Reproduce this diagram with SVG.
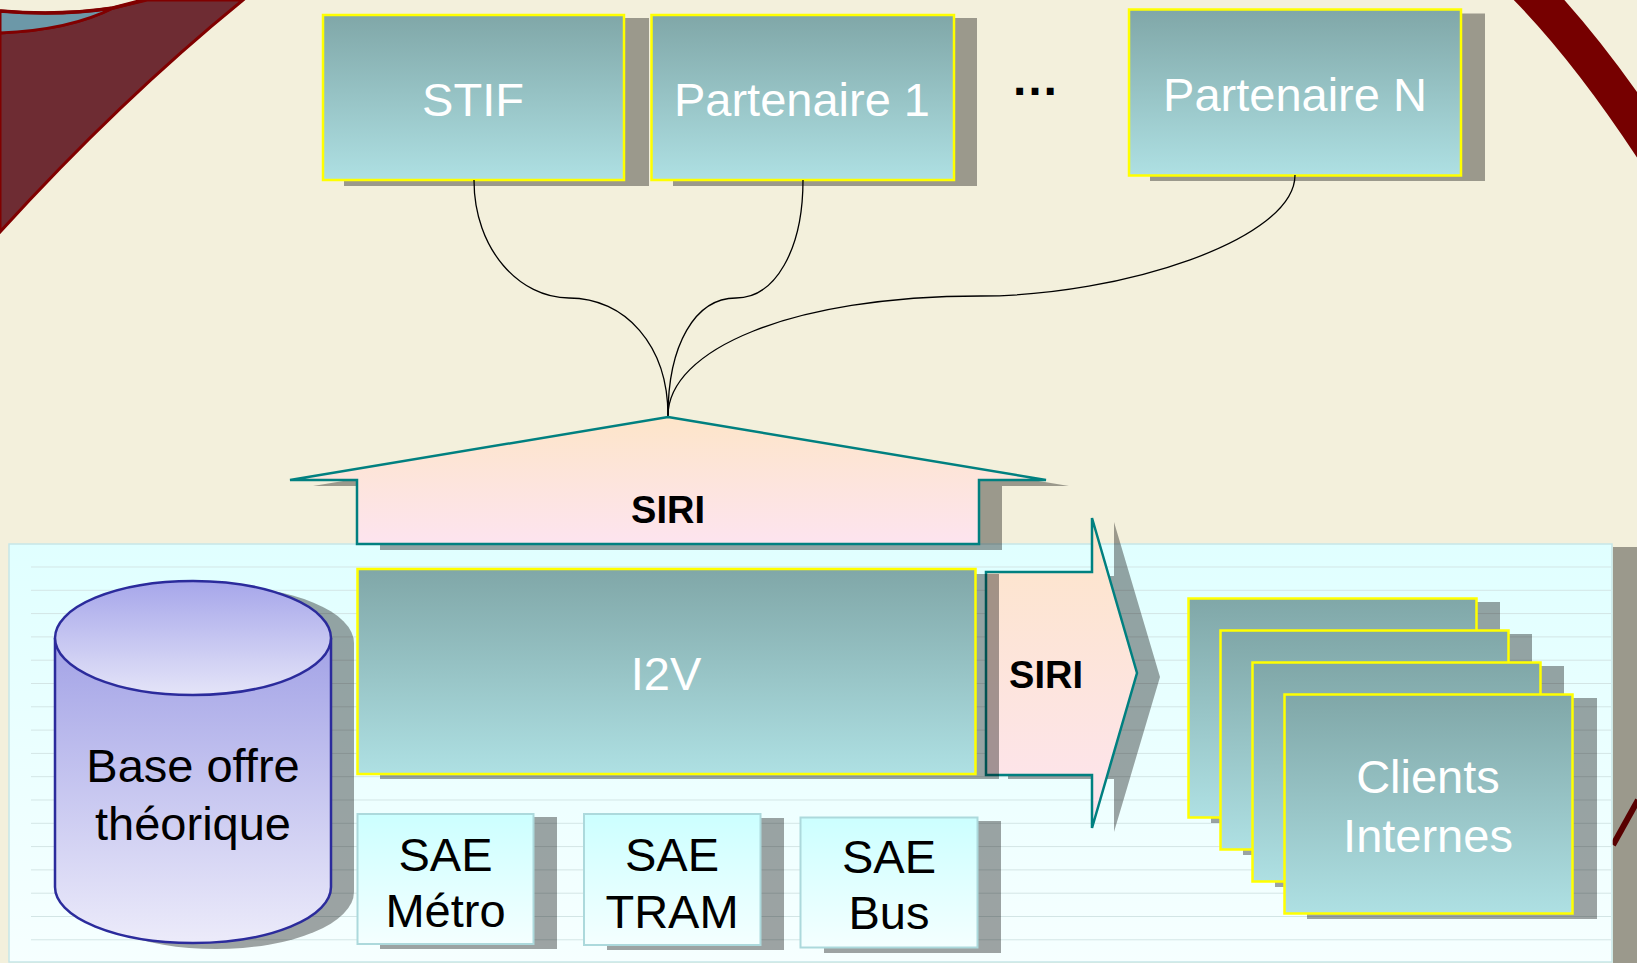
<svg xmlns="http://www.w3.org/2000/svg" width="1637" height="963" viewBox="0 0 1637 963">
<defs>
<linearGradient id="gBox" x1="0" y1="0" x2="0" y2="1">
<stop offset="0" stop-color="#80a7a8"/>
<stop offset="1" stop-color="#aee0e3"/>
</linearGradient>
<linearGradient id="gPanel" x1="0" y1="0" x2="0" y2="1">
<stop offset="0" stop-color="#e0ffff"/>
<stop offset="1" stop-color="#f6ffff"/>
</linearGradient>
<linearGradient id="gArrow" x1="0" y1="0" x2="0" y2="1">
<stop offset="0" stop-color="#fde5c9"/>
<stop offset="1" stop-color="#fde4ef"/>
</linearGradient>
<linearGradient id="gSae" x1="0" y1="0" x2="0" y2="1">
<stop offset="0" stop-color="#ccffff"/>
<stop offset="1" stop-color="#f4ffff"/>
</linearGradient>
<linearGradient id="gCyl" x1="0" y1="0" x2="0" y2="1">
<stop offset="0" stop-color="#a2a2e6"/>
<stop offset="1" stop-color="#ecebfa"/>
</linearGradient>
<linearGradient id="gCylTop" x1="0" y1="0" x2="0" y2="1">
<stop offset="0" stop-color="#a6a6ea"/>
<stop offset="1" stop-color="#e4e4f8"/>
</linearGradient>
<pattern id="stripes" patternUnits="userSpaceOnUse" x="0" y="566.5" width="40" height="23.3">
<line x1="0" y1="0.5" x2="40" y2="0.5" stroke="#d3e5e5" stroke-width="1"/>
</pattern>
<style>
.bg{fill:#f3f0dc}
.shadow{fill:#000;fill-opacity:0.36}
.box{fill:url(#gBox);stroke:#ffff00;stroke-width:2.5}
.sae{fill:url(#gSae);stroke:#acd9dc;stroke-width:2}
.arrow{fill:url(#gArrow);stroke:#008080;stroke-width:2.5;stroke-linejoin:miter}
.wt{font-family:"Liberation Sans",Arial,sans-serif;font-size:47px;fill:#ffffff;text-anchor:middle}
.bt{font-family:"Liberation Sans",Arial,sans-serif;font-size:47px;fill:#000000;text-anchor:middle}
.siri{font-family:"Liberation Sans",Arial,sans-serif;font-size:38px;font-weight:bold;fill:#000000;text-anchor:middle}
.conn{fill:none;stroke:#000000;stroke-width:1.3}
</style>
</defs>
<rect class="bg" x="0" y="0" width="1637" height="963"/>
<g id="decor">
<path d="M0,33 Q70,30 113,8 L147,0 L243,0 Q120,100 0,232 Z" fill="#6e2c33" stroke="#800000" stroke-width="3"/>
<path d="M0,11 Q60,16 113,8 Q70,30 0,33 Z" fill="#6c98a8" stroke="#800000" stroke-width="3"/>
<path d="M0,11 Q60,16 113,8 L147,-1" fill="none" stroke="#800000" stroke-width="3.5"/>
<path d="M1522,-18 Q1590,50 1662,162" fill="none" stroke="#760000" stroke-width="37"/>
</g>
<g id="stif">
<rect class="shadow" x="344" y="18" width="305" height="168"/>
<rect class="box" x="323" y="15" width="301" height="165"/>
<text class="wt" x="473" y="116">STIF</text>
</g>
<g id="partenaire1">
<rect class="shadow" x="673" y="18" width="304" height="168"/>
<rect class="box" x="651.5" y="15" width="302.5" height="165"/>
<text class="wt" x="802" y="116">Partenaire 1</text>
</g>
<g id="ellipsis">
<text x="1035" y="95" font-family="'Liberation Sans',Arial,sans-serif" font-size="48" font-weight="bold" fill="#000" text-anchor="middle">…</text>
</g>
<g id="partenaireN">
<rect class="shadow" x="1150" y="13.5" width="335" height="167.5"/>
<rect class="box" x="1129" y="9.5" width="332" height="166"/>
<text class="wt" x="1295" y="111">Partenaire N</text>
</g>
<g id="connectors">
<path class="conn" d="M474,180 C474,250 520,298 569,298 C625,298 668,345 668,416"/>
<path class="conn" d="M803,180 C803,250 775,298 736,298 C695,298 668,345 668,416"/>
<path class="conn" d="M1295,175 C1295,240 1120,296 981,296 C790,296 668,350 668,416"/>
</g>
<g id="panel">
<path d="M1613,845 L1638,800" stroke="#8a0000" stroke-width="6" fill="none"/>
<rect class="shadow" x="1613" y="547" width="24" height="416"/>
<rect x="9" y="544" width="1603" height="418" fill="url(#gPanel)" stroke="#c6e6e8" stroke-width="1.5"/>
<rect x="31" y="560" width="1580" height="400" fill="url(#stripes)"/>
</g>
<g id="siri-up">
<polygon class="shadow" points="691,423 1069,486 1002,486 1002,550 380,550 380,486 313,486"/>
<polygon class="arrow" points="668,417 1046,480 979,480 979,544 357,544 357,480 290,480"/>
<text class="siri" x="668" y="523">SIRI</text>
</g>
<g id="siri-right">
<polygon class="shadow" points="1008,576 1114,576 1114,522 1160,677 1114,832 1114,779 1008,779"/>
<polygon class="arrow" points="986,572 1092,572 1092,518 1137,673 1092,828 1092,775 986,775"/>
<text class="siri" x="1046" y="688">SIRI</text>
</g>
<g id="i2v">
<rect class="shadow" x="380" y="574" width="619" height="205"/>
<rect class="box" x="357.5" y="569" width="618" height="205"/>
<text class="wt" x="666" y="690">I2V</text>
</g>
<g id="base-offre">
<path class="shadow" d="M78,643 A138,57 0 0 1 354,643 L354,892 A138,57 0 0 1 78,892 Z"/>
<path d="M55,638 L55,887 A138,56 0 0 0 331,887 L331,638" fill="url(#gCyl)" stroke="#2b2b9c" stroke-width="2.5"/>
<ellipse cx="193" cy="638" rx="138" ry="57" fill="url(#gCylTop)" stroke="#2b2b9c" stroke-width="2.5"/>
<text class="bt" x="193" y="782">Base offre</text>
<text class="bt" x="193" y="840">théorique</text>
</g>
<g id="sae-metro">
<rect class="shadow" x="380" y="817" width="177" height="132"/>
<rect class="sae" x="357.5" y="814" width="176" height="130"/>
<text class="bt" x="445.5" y="871" font-size="46">SAE</text>
<text class="bt" x="445.5" y="927" font-size="46">Métro</text>
</g>
<g id="sae-tram">
<rect class="shadow" x="607" y="818" width="177" height="132"/>
<rect class="sae" x="584" y="814" width="176.5" height="131"/>
<text class="bt" x="672" y="871" font-size="46">SAE</text>
<text class="bt" x="672" y="928" font-size="46">TRAM</text>
</g>
<g id="sae-bus">
<rect class="shadow" x="824" y="821" width="177" height="132"/>
<rect class="sae" x="800.5" y="817.5" width="177" height="130"/>
<text class="bt" x="889" y="873" font-size="46">SAE</text>
<text class="bt" x="889" y="929" font-size="46">Bus</text>
</g>
<g id="clients-internes">
<rect class="shadow" x="1211" y="602" width="289" height="221"/>
<rect class="box" x="1188.5" y="598.5" width="288" height="219"/>
<rect class="shadow" x="1243" y="634" width="289" height="221"/>
<rect class="box" x="1220.5" y="630.5" width="288" height="219"/>
<rect class="shadow" x="1275" y="666" width="289" height="221"/>
<rect class="box" x="1252.5" y="662.5" width="288" height="219"/>
<rect class="shadow" x="1307" y="698" width="290" height="221"/>
<rect class="box" x="1284.5" y="694.5" width="288" height="219"/>
<text class="wt" x="1428" y="793">Clients</text>
<text class="wt" x="1428" y="852">Internes</text>
</g>
</svg>
